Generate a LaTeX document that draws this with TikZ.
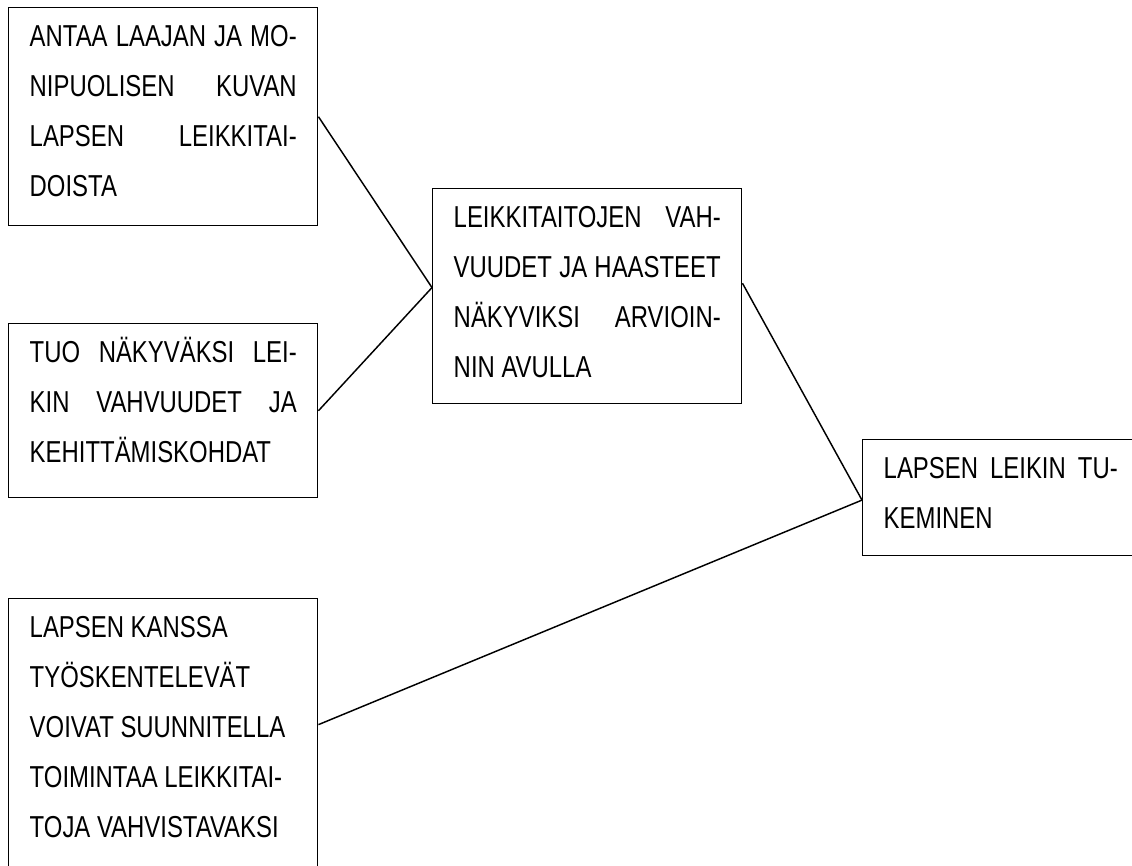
\documentclass[tikz,border=0pt]{standalone}
\usepackage{fontspec}
\setmainfont{Liberation Sans}[FakeStretch=0.79]
\usetikzlibrary{calc}
\newcommand{\jl}[1]{\makebox[\linewidth][s]{#1}}
\newcommand{\boxtext}[3]{\parbox[t][#1][t]{#2}{\rule{0pt}{29pt}#3}}

\begin{document}
\begin{tikzpicture}[x=0.75pt,y=-0.75pt,
  textbox/.style={draw, line width=1.1pt, anchor=north west, inner xsep=15.75pt, inner ysep=0pt, font=\fontsize{22.7pt}{37.5pt}\selectfont},
  link/.style={line width=1.1pt}]
\useasboundingbox (0,0) rectangle (1132,865);
\node[textbox] (kuva) at (8,7) {\boxtext{163.5pt}{200.25pt}{\jl{ANTAA LAAJAN JA MO-}\\ \jl{NIPUOLISEN KUVAN}\\ \jl{LAPSEN LEIKKITAI-}\\ DOISTA}};
\node[textbox] (nakyvaksi) at (8,323) {\boxtext{130.5pt}{200.25pt}{\jl{TUO NÄKYVÄKSI LEI-}\\ \jl{KIN VAHVUUDET JA}\\ KEHITTÄMISKOHDAT}};
\node[textbox] (suunnittelu) at (8,598) {\boxtext{225pt}{200.25pt}{LAPSEN KANSSA\\ TYÖSKENTELEVÄT\\ VOIVAT SUUNNITELLA\\ TOIMINTAA LEIKKITAI-\\ TOJA VAHVISTAVAKSI}};
\node[textbox] (arvio) at (432,188) {\boxtext{161.25pt}{200.25pt}{\jl{LEIKKITAITOJEN VAH-}\\ \jl{VUUDET JA HAASTEET}\\ \jl{NÄKYVIKSI ARVIOIN-}\\ NIN AVULLA}};
\node[textbox] (tukeminen) at (862,439) {\boxtext{87pt}{175.5pt}{\jl{LAPSEN LEIKIN TU-}\\ KEMINEN}};

\coordinate (arvioL) at ($(arvio.north west)!0.46!(arvio.south west)$);
\coordinate (arvioR) at ($(arvio.north east)!0.44!(arvio.south east)$);
\coordinate (tukiL) at ($(tukeminen.north west)!0.52!(tukeminen.south west)$);
\coordinate (suunR) at ($(suunnittelu.north east)!0.42!(suunnittelu.south east)$);

\draw[link] (kuva.east) -- (arvioL);
\draw[link] (nakyvaksi.east) -- (arvioL);
\draw[link] (arvioR) -- (tukiL);
\draw[link] (suunR) -- (tukiL);
\end{tikzpicture}
\end{document}
